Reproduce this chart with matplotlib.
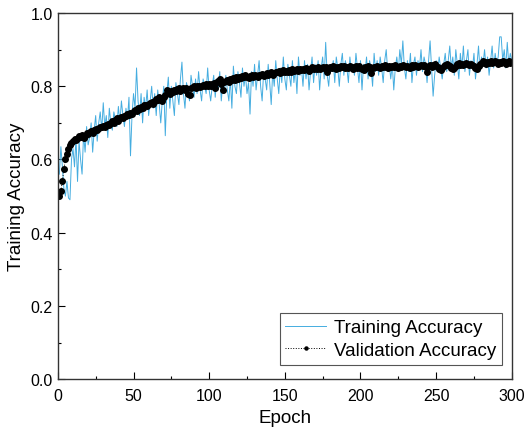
import matplotlib
matplotlib.use("Agg")
import matplotlib.pyplot as plt
from matplotlib.ticker import MultipleLocator

plt.rcParams['font.family'] = ['Liberation Sans', 'DejaVu Sans']

val_acc = [
    0.500, 0.515, 0.540, 0.575, 0.600, 0.615, 0.630, 0.640, 0.645, 0.650,
    0.655, 0.652, 0.660, 0.665, 0.662, 0.668, 0.660, 0.665, 0.672, 0.670,
    0.675, 0.678, 0.672, 0.680, 0.683, 0.680, 0.686, 0.690, 0.688, 0.692,
    0.690, 0.695, 0.698, 0.694, 0.700, 0.704, 0.700, 0.708, 0.712, 0.706,
    0.713, 0.716, 0.712, 0.720, 0.718, 0.724, 0.722, 0.728, 0.725, 0.732,
    0.735, 0.733, 0.740, 0.738, 0.744, 0.742, 0.748, 0.750, 0.746, 0.752,
    0.755, 0.758, 0.752, 0.760, 0.765, 0.762, 0.770, 0.768, 0.760, 0.772,
    0.775, 0.790, 0.785, 0.780, 0.788, 0.784, 0.790, 0.786, 0.792, 0.795,
    0.788, 0.792, 0.795, 0.790, 0.796, 0.780, 0.775, 0.794, 0.798, 0.800,
    0.796, 0.800, 0.802, 0.798, 0.800, 0.804, 0.800, 0.806, 0.802, 0.805,
    0.800, 0.806, 0.810, 0.795, 0.812, 0.815, 0.820, 0.805, 0.790, 0.812,
    0.815, 0.818, 0.812, 0.820, 0.816, 0.822, 0.818, 0.824, 0.820, 0.826,
    0.822, 0.828, 0.825, 0.830, 0.826, 0.822, 0.828, 0.832, 0.826, 0.830,
    0.828, 0.825, 0.832, 0.830, 0.834, 0.828, 0.832, 0.836, 0.830, 0.834,
    0.838, 0.832, 0.836, 0.840, 0.838, 0.842, 0.836, 0.840, 0.844, 0.840,
    0.842, 0.838, 0.844, 0.840, 0.846, 0.842, 0.845, 0.848, 0.843, 0.846,
    0.844, 0.848, 0.845, 0.850, 0.846, 0.843, 0.848, 0.852, 0.847, 0.850,
    0.848, 0.852, 0.846, 0.850, 0.854, 0.849, 0.852, 0.838, 0.850, 0.853,
    0.850, 0.855, 0.852, 0.848, 0.854, 0.850, 0.856, 0.852, 0.855, 0.851,
    0.854, 0.850, 0.856, 0.853, 0.848, 0.852, 0.855, 0.851, 0.856, 0.850,
    0.848, 0.845, 0.852, 0.850, 0.855, 0.853, 0.835, 0.850, 0.854, 0.852,
    0.856, 0.853, 0.850, 0.855, 0.852, 0.857, 0.854, 0.851, 0.856, 0.853,
    0.855, 0.852, 0.857, 0.854, 0.850, 0.856, 0.853, 0.858, 0.855, 0.852,
    0.856, 0.853, 0.850, 0.857, 0.854, 0.858, 0.855, 0.852, 0.856, 0.859,
    0.855, 0.858, 0.852, 0.840, 0.855, 0.858, 0.854, 0.857, 0.860, 0.856,
    0.852, 0.848, 0.845, 0.850, 0.856, 0.859, 0.862, 0.858, 0.855, 0.850,
    0.846, 0.850, 0.856, 0.860, 0.863, 0.858, 0.861, 0.857, 0.860, 0.864,
    0.860, 0.857, 0.862, 0.859, 0.855, 0.850, 0.848, 0.855, 0.860, 0.864,
    0.868, 0.865, 0.861, 0.866, 0.863, 0.868, 0.864, 0.866, 0.870, 0.866,
    0.862, 0.867, 0.864, 0.868, 0.865, 0.862, 0.866, 0.870, 0.864, 0.866,
]

train_acc = [
    0.560, 0.635, 0.580, 0.520, 0.500, 0.540, 0.495, 0.490, 0.600, 0.630,
    0.580, 0.660, 0.540, 0.650, 0.600, 0.560, 0.670, 0.620, 0.690, 0.640,
    0.660, 0.700, 0.620, 0.680, 0.720, 0.650, 0.700, 0.730, 0.680, 0.755,
    0.690, 0.720, 0.660, 0.740, 0.700, 0.680, 0.730, 0.710, 0.690, 0.745,
    0.700, 0.760, 0.720, 0.690, 0.740, 0.710, 0.770, 0.610, 0.720, 0.780,
    0.740, 0.850, 0.760, 0.720, 0.780, 0.700, 0.770, 0.740, 0.790, 0.720,
    0.760, 0.800, 0.740, 0.780, 0.720, 0.790, 0.750, 0.700, 0.760, 0.800,
    0.665, 0.780, 0.825, 0.740, 0.800, 0.760, 0.720, 0.810, 0.780, 0.750,
    0.820, 0.866, 0.780, 0.740, 0.810, 0.790, 0.760, 0.830, 0.800, 0.770,
    0.820, 0.780, 0.840, 0.790, 0.760, 0.820, 0.800, 0.780, 0.850, 0.790,
    0.760, 0.800, 0.830, 0.770, 0.820, 0.790, 0.840, 0.760, 0.810, 0.780,
    0.830, 0.790, 0.760, 0.820, 0.740, 0.855, 0.800, 0.780, 0.840, 0.810,
    0.770, 0.850, 0.800, 0.830, 0.780, 0.810, 0.724, 0.840, 0.800, 0.860,
    0.790, 0.830, 0.870, 0.800, 0.760, 0.840, 0.820, 0.790, 0.860, 0.810,
    0.750, 0.840, 0.800, 0.870, 0.820, 0.780, 0.850, 0.810, 0.880, 0.820,
    0.790, 0.860, 0.830, 0.800, 0.870, 0.810, 0.850, 0.780, 0.880, 0.830,
    0.850, 0.800, 0.870, 0.820, 0.860, 0.790, 0.840, 0.880, 0.810, 0.860,
    0.830, 0.870, 0.790, 0.850, 0.880, 0.820, 0.920, 0.830, 0.800, 0.860,
    0.840, 0.870, 0.810, 0.880, 0.850, 0.800, 0.860, 0.890, 0.830, 0.870,
    0.850, 0.810, 0.880, 0.840, 0.860, 0.830, 0.890, 0.850, 0.810, 0.870,
    0.790, 0.860, 0.840, 0.880, 0.820, 0.870, 0.850, 0.800, 0.890, 0.840,
    0.870, 0.830, 0.880, 0.850, 0.810, 0.870, 0.900, 0.840, 0.860, 0.820,
    0.860, 0.790, 0.850, 0.880, 0.840, 0.900, 0.860, 0.924, 0.850, 0.820,
    0.870, 0.840, 0.890, 0.810, 0.860, 0.880, 0.830, 0.870, 0.850, 0.900,
    0.840, 0.880, 0.860, 0.810, 0.870, 0.924, 0.850, 0.773, 0.830, 0.870,
    0.840, 0.880, 0.850, 0.820, 0.860, 0.890, 0.840, 0.870, 0.910, 0.850,
    0.880, 0.830, 0.900, 0.860, 0.820, 0.890, 0.850, 0.910, 0.840, 0.870,
    0.900, 0.830, 0.870, 0.850, 0.890, 0.820, 0.860, 0.910, 0.840, 0.880,
    0.860, 0.900, 0.850, 0.880, 0.830, 0.870, 0.910, 0.850, 0.890, 0.860,
    0.880, 0.935, 0.935, 0.870, 0.900, 0.850, 0.920, 0.860, 0.890, 0.870,
]

epochs = list(range(1, len(val_acc) + 1))
x_ticks = [0, 50, 100, 150, 200, 250, 300]
y_ticks = [0.0, 0.2, 0.4, 0.6, 0.8, 1.0]

fig = plt.figure(figsize=(5.26, 4.39), dpi=100)
ax = fig.add_axes([0.110, 0.134, 0.863, 0.834])

ax.plot(epochs, train_acc, color='#45ade0', linewidth=0.7, label='Training Accuracy')
ax.plot(epochs, val_acc, color='black', linestyle=':', linewidth=0.7,
        marker='o', markersize=4.0, label='Validation Accuracy')

ax.set_xlim(0, 300)
ax.set_ylim(0, 1.0)
ax.set_xticks(x_ticks)
ax.set_yticks(y_ticks)
ax.set_yticklabels([f"{v:.1f}" for v in y_ticks])
ax.xaxis.set_minor_locator(MultipleLocator(25))
ax.yaxis.set_minor_locator(MultipleLocator(0.1))
ax.tick_params(which='major', direction='in', length=5, width=0.8, labelsize=11.5,
               top=False, right=False)
ax.tick_params(which='minor', direction='in', length=2.5, width=0.8, top=False, right=False)
ax.tick_params(axis='x', pad=6)
for s in ax.spines.values():
    s.set_linewidth(1.0)
    s.set_color('#333333')

ax.set_xlabel('Epoch', fontsize=13.5, labelpad=5)
ax.set_ylabel('Training Accuracy', fontsize=13.5, labelpad=4)

leg = ax.legend(loc='lower right', bbox_to_anchor=(0.9780, 0.040), fontsize=13.5,
                frameon=True, fancybox=False, edgecolor='#555555', framealpha=1,
                borderpad=0.3, labelspacing=0.3, handlelength=2.2,
                handletextpad=0.4, borderaxespad=0.0, markerscale=0.55)
leg.get_frame().set_linewidth(0.8)

fig.savefig('out.png', dpi=100)
